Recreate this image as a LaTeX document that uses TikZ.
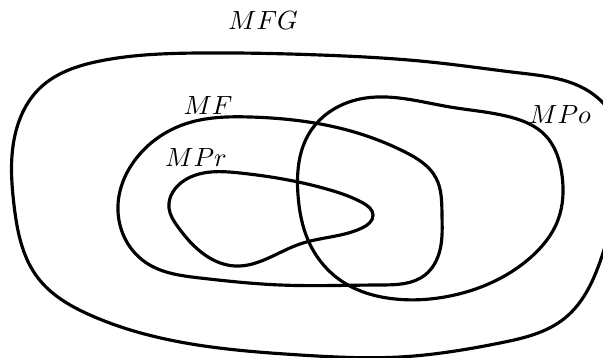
\documentclass[tikz,border=0pt]{standalone}
\usetikzlibrary{hobby}
\begin{document}
\begin{tikzpicture}[
  x=0.38pt, y=-0.38pt,
  conjunto/.style={very thick, use Hobby shortcut, closed=true},
  etiqueta/.style={inner sep=1pt}
]
\useasboundingbox (0,0) rectangle (603,358);

% MFG
\draw[conjunto] (14,205) .. (15,135) .. (40,88) .. (100,61) .. (200,53)
  .. (320,55) .. (430,62) .. (520,73) .. (585,89) .. (612,115) .. (620,180)
  .. (603,253) .. (565,318) .. (500,343) .. (400,357) .. (300,355)
  .. (180,342) .. (90,315) .. (38,278);
\node[etiqueta] (mfg) at (263,21) {$MFG$};

% MF
\draw[conjunto] (118,205) .. (135,160) .. (185,124) .. (250,117) .. (347,130)
  .. (405,152) .. (436,178) .. (442,215) .. (440,250) .. (425,275)
  .. (380,285) .. (280,285) .. (200,278) .. (145,262);
\node[etiqueta] (mf) at (208,106) {$MF$};

% MPr
\draw[conjunto] (169,208) .. (185,180) .. (240,173) .. (330,190) .. (363,203)
  .. (373,215) .. (362,228) .. (300,244) .. (235,266) .. (205,255)
  .. (178,227);
\node[etiqueta] (mpr) at (196,158) {$MPr$};

% MPo
\draw[conjunto] (298,195) .. (310,132) .. (360,99) .. (450,107) .. (510,117)
  .. (545,135) .. (562,175) .. (558,220) .. (530,258) .. (450,296)
  .. (395,299) .. (340,280) .. (308,240);
\node[etiqueta] (mpo) at (560,115) {$MPo$};
\end{tikzpicture}
\end{document}
